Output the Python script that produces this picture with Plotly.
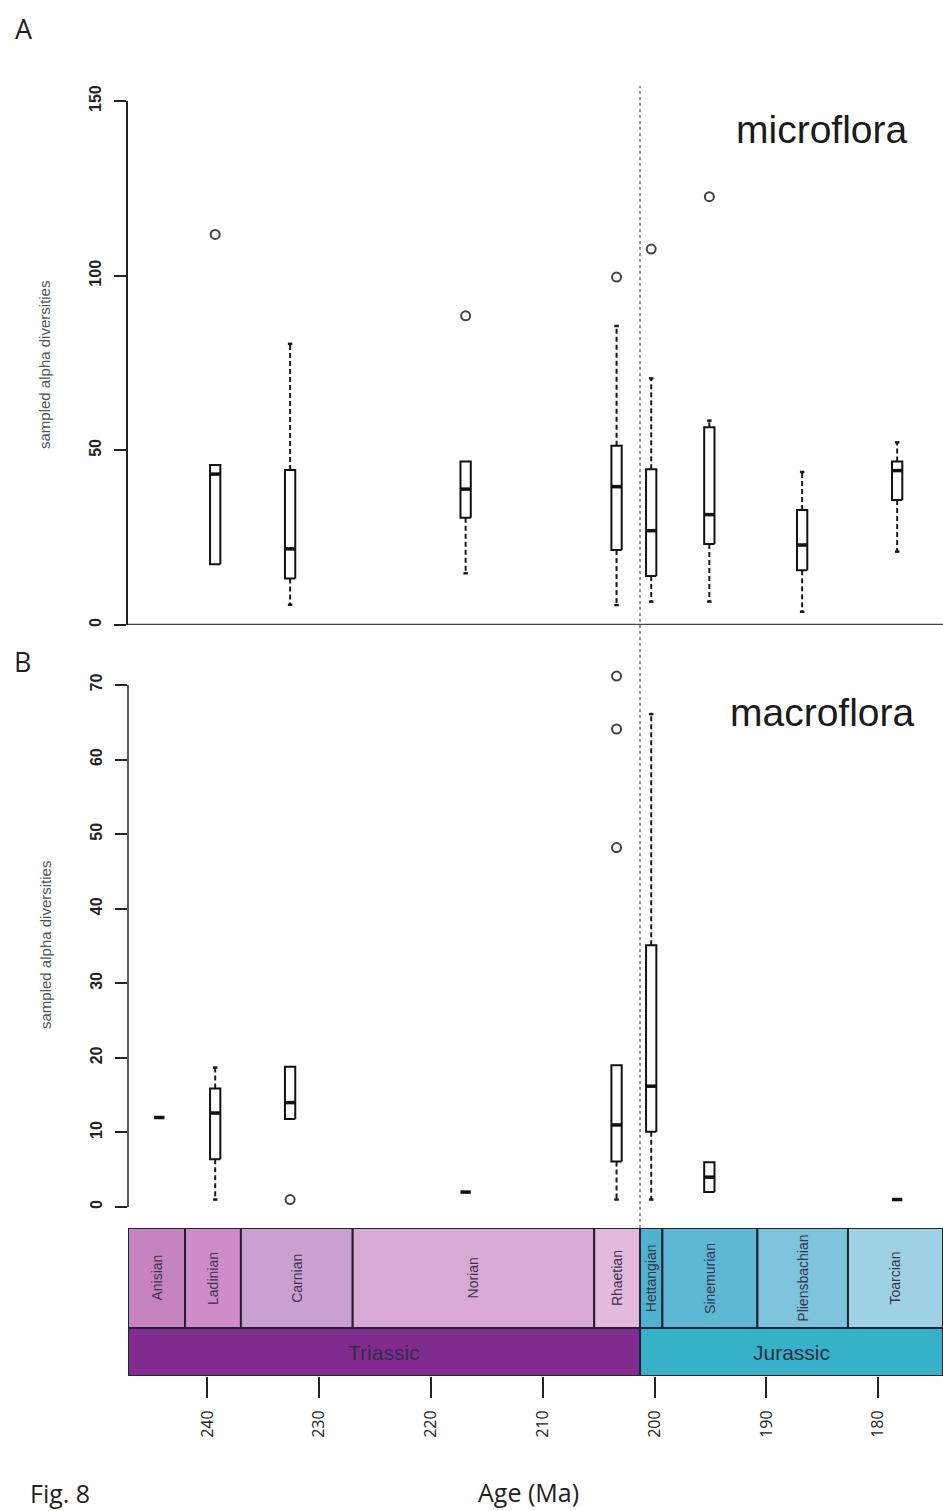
import plotly.graph_objects as go

# ---------------- data ----------------
stage_names = ["Anisian", "Ladinian", "Carnian", "Norian", "Rhaetian",
               "Hettangian", "Sinemurian", "Pliensbachian", "Toarcian"]
stage_start = [247.1, 242.0, 237.0, 227.0, 205.4, 201.3, 199.3, 190.8, 182.7]
stage_end = [242.0, 237.0, 227.0, 205.4, 201.3, 199.3, 190.8, 182.7, 174.2]
stage_colors = ["#c584c0", "#cf8bca", "#c9a0d1", "#d9a9d6", "#e3b9df",
                "#4fb2cf", "#5db8d5", "#7dc3dc", "#9dd1e3"]
period_names = ["Triassic", "Jurassic"]
period_start = [247.1, 201.3]
period_end = [201.3, 174.2]
period_colors = ["#812b91", "#35b1c8"]
boundary_age = 201.3

age_ticks = [240, 230, 220, 210, 200, 190, 180]

# panel A: microflora
micro_age = [239.3, 232.6, 216.9, 203.4, 200.3, 195.1, 186.8, 178.3]
micro_low = [17.4, 5.8, 14.8, 5.7, 6.7, 6.7, 3.8, 21.0]
micro_q1 = [17.4, 13.3, 30.7, 21.5, 14.0, 23.2, 15.7, 35.8]
micro_med = [43.2, 21.8, 38.9, 39.6, 27.0, 31.6, 22.9, 44.2]
micro_q3 = [45.8, 44.4, 46.8, 51.3, 44.6, 56.6, 32.9, 46.8]
micro_high = [45.8, 80.5, 46.8, 85.6, 70.6, 58.5, 43.8, 52.3]
micro_out_age = [239.3, 216.9, 203.4, 200.3, 195.1]
micro_out_val = [111.8, 88.5, 99.6, 107.6, 122.6]

# panel B: macroflora
macro_age = [244.3, 239.3, 232.6, 216.9, 203.4, 200.3, 195.1, 178.3]
macro_low = [12, 1, 11.8, 2, 1, 1, 2, 1]
macro_q1 = [12, 6.4, 11.8, 2, 6.1, 10.1, 2, 1]
macro_med = [12, 12.6, 14.0, 2, 11.0, 16.2, 4, 1]
macro_q3 = [12, 15.9, 18.8, 2, 19.0, 35.1, 6, 1]
macro_high = [12, 18.7, 18.8, 2, 19.0, 66.1, 6, 1]
macro_out_age = [232.6, 203.4, 203.4, 203.4]
macro_out_val = [1.0, 71.2, 64.1, 48.2]

# ---------------- layout geometry ----------------
W, H = 943, 1511
ML = 128
PW = W - ML


def px(xp):
    return (xp - ML) / PW


def py(yp):
    return 1 - yp / H


HW = 0.46   # box half width (Ma)
CW = 0.2    # cap half width (Ma)

fig = go.Figure()


def add_boxes(ages, low, q1, med, q3, high, oa, ov, yax):
    bx, by, mx, my, wx, wy, cx, cy = [], [], [], [], [], [], [], []
    for a, lo, a1, m, a3, hi in zip(ages, low, q1, med, q3, high):
        if a3 > a1:
            bx += [a - HW, a + HW, a + HW, a - HW, a - HW, None]
            by += [a1, a1, a3, a3, a1, None]
        mx += [a - HW, a + HW, None]
        my += [m, m, None]
        if hi > a3:
            wx += [a, a, None]
            wy += [a3, hi, None]
            cx += [a - CW, a + CW, None]
            cy += [hi, hi, None]
        if lo < a1:
            wx += [a, a, None]
            wy += [a1, lo, None]
            cx += [a - CW, a + CW, None]
            cy += [lo, lo, None]
    fig.add_trace(go.Scatter(x=wx, y=wy, mode="lines", yaxis=yax,
                             line=dict(color="#1a1a1a", width=2, dash="5px,3px"),
                             hoverinfo="skip", showlegend=False))
    fig.add_trace(go.Scatter(x=cx, y=cy, mode="lines", yaxis=yax,
                             line=dict(color="#1a1a1a", width=2.5),
                             hoverinfo="skip", showlegend=False))
    fig.add_trace(go.Scatter(x=bx, y=by, mode="lines", yaxis=yax,
                             line=dict(color="#111111", width=2),
                             fill="toself", fillcolor="white",
                             hoverinfo="skip", showlegend=False))
    fig.add_trace(go.Scatter(x=mx, y=my, mode="lines", yaxis=yax,
                             line=dict(color="#111111", width=3.5),
                             hoverinfo="skip", showlegend=False))
    fig.add_trace(go.Scatter(x=oa, y=ov, mode="markers", yaxis=yax, cliponaxis=False,
                             marker=dict(symbol="circle-open", size=9,
                                         color="#444444", line=dict(width=2)),
                             hoverinfo="skip", showlegend=False))


add_boxes(micro_age, micro_low, micro_q1, micro_med, micro_q3, micro_high,
          micro_out_age, micro_out_val, "y")
add_boxes(macro_age, macro_low, macro_q1, macro_med, macro_q3, macro_high,
          macro_out_age, macro_out_val, "y2")

shapes = []
annotations = []

# timescale (y3: 0-48 period row, 48-148 stage row)
for n, s, e, c in zip(stage_names, stage_start, stage_end, stage_colors):
    shapes.append(dict(type="rect", xref="x", yref="y3", x0=s, x1=e, y0=48, y1=148,
                       fillcolor=c, line=dict(color="#222233", width=2), layer="below"))
    annotations.append(dict(x=(s + e) / 2, y=98, xref="x", yref="y3", text=n,
                            textangle=-90, showarrow=False,
                            font=dict(family="Arial", size=14, color="#3a3350"),
                            xanchor="center", yanchor="middle"))
for n, s, e, c in zip(period_names, period_start, period_end, period_colors):
    shapes.append(dict(type="rect", xref="x", yref="y3", x0=s, x1=e, y0=0, y1=48,
                       fillcolor=c, line=dict(color="#222233", width=2), layer="below"))
    annotations.append(dict(x=(s + e) / 2, y=24, xref="x", yref="y3", text=n,
                            showarrow=False,
                            font=dict(family="Arial", size=21, color="#2e2e44"),
                            xanchor="center", yanchor="middle"))

# boundary dotted line
shapes.append(dict(type="line", xref="x", yref="paper", x0=boundary_age, x1=boundary_age,
                   y0=py(1228), y1=py(86), line=dict(color="#777777", width=1.5, dash="dot")))
# panel A bottom line
shapes.append(dict(type="line", xref="paper", yref="y", x0=0, x1=1, y0=0, y1=0,
                   line=dict(color="#444444", width=2.5)))
# panel B left axis line
shapes.append(dict(type="line", xref="paper", yref="y2", x0=0, x1=0, y0=0, y1=70,
                   line=dict(color="#222222", width=1.5)))


def ann(xp, yp, text, size, family="Arial", color="#222222", angle=0, xanchor="center"):
    return dict(x=px(xp), y=py(yp), xref="paper", yref="paper", text=text,
                showarrow=False, textangle=angle, xanchor=xanchor, yanchor="middle",
                font=dict(family=family, size=size, color=color))


annotations += [
    ann(24, 28, "A", 27, "Open Sans"),
    ann(22, 661, "B", 27, "Open Sans"),
    ann(822, 130, "microflora", 39, "Arial", "#1a1a1a"),
    ann(822, 712, "macroflora", 39, "Arial", "#1a1a1a"),
    ann(45, 365, "sampled alpha diversities", 15, "Arial", "#555555", -90),
    ann(45, 945, "sampled alpha diversities", 15, "Arial", "#555555", -90),
    ann(528, 1492, "Age (Ma)", 25, "Open Sans"),
    ann(28, 1493, "Fig. 8", 25, "Open Sans", xanchor="left"),
]

ytickfont = dict(family="Arial", size=16, color="#222222", weight="bold")

# panel B: pixel 685 <-> 70, pixel 1207 <-> 0 ; domain spans 668..1228
B_TOP_PX, B_BOT_PX = 668, 1228
B_UNIT = (1207 - 685) / 70.0
b_range = [-(B_BOT_PX - 1207) / B_UNIT, 70 + (685 - B_TOP_PX) / B_UNIT]

fig.update_layout(
    width=W, height=H,
    margin=dict(l=ML, r=0, t=0, b=0),
    plot_bgcolor="white", paper_bgcolor="white",
    showlegend=False,
    shapes=shapes,
    annotations=annotations,
    xaxis=dict(domain=[0, 1], range=[247.1, 174.2], anchor="y3",
               tickvals=age_ticks, ticks="outside", ticklen=21, tickwidth=1.5,
               tickcolor="#222222", tickangle=-90, showgrid=False, zeroline=False,
               showline=False, automargin=False, ticklabelstandoff=6,
               tickfont=dict(family="Open Sans", size=16, color="#222222")),
    yaxis=dict(domain=[py(625), py(101)], range=[0, 150], tickvals=[0, 50, 100, 150],
               ticks="outside", ticklen=12, tickwidth=1.5, tickcolor="#222222",
               showline=True, linecolor="#222222", linewidth=1.5, tickangle=-90,
               showgrid=False, zeroline=False, automargin=False, ticklabelstandoff=7,
               tickfont=ytickfont),
    yaxis2=dict(domain=[py(B_BOT_PX), py(B_TOP_PX)], range=b_range,
                tickvals=[0, 10, 20, 30, 40, 50, 60, 70],
                ticks="outside", ticklen=12, tickwidth=1.5, tickcolor="#222222",
                showline=False, tickangle=-90, anchor="x",
                showgrid=False, zeroline=False, automargin=False, ticklabelstandoff=7,
                tickfont=ytickfont),
    yaxis3=dict(domain=[py(1376), py(1228)], range=[0, 148], visible=False,
                showgrid=False, zeroline=False, anchor="x"),
)

fig.write_html("out.html", config={"displayModeBar": False},
               post_script="document.body.style.margin='0px';")
